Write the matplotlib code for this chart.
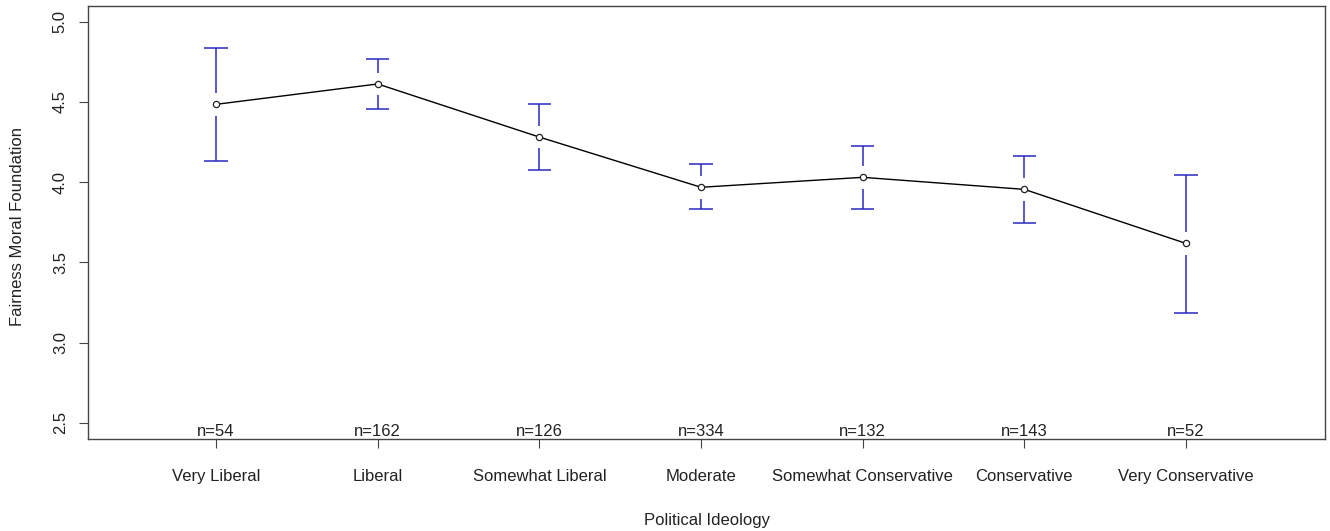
import matplotlib.pyplot as plt

# данные: средние и доверительные интервалы по группам
categories = ['Very Liberal', 'Liberal', 'Somewhat Liberal', 'Moderate',
              'Somewhat Conservative', 'Conservative', 'Very Conservative']
means = [4.485, 4.612, 4.281, 3.968, 4.030, 3.955, 3.618]
upper = [4.838, 4.767, 4.489, 4.113, 4.227, 4.165, 4.044]
lower = [4.132, 4.458, 4.077, 3.830, 3.834, 3.747, 3.184]
counts = [54, 162, 126, 334, 132, 143, 52]
yticks = [2.5, 3.0, 3.5, 4.0, 4.5, 5.0]

plt.rcParams['font.family'] = ['Liberation Sans', 'DejaVu Sans']

fig = plt.figure(figsize=(13.3, 5.31), dpi=100)
ax = fig.add_axes([88 / 1330, 1 - 439.3 / 531, (1325 - 88) / 1330, (439.3 - 6) / 531])

x = list(range(1, len(categories) + 1))
blue = '#2a2abf'
gap = 0.07
cap = 0.072
fs = 12
tc = '#222222'

# усы с разрывом вокруг точки
ax.vlines(x, [m + gap for m in means], upper, color=blue, lw=1.1)
ax.vlines(x, lower, [m - gap for m in means], color=blue, lw=1.1)
ax.hlines(upper, [i - cap for i in x], [i + cap for i in x], color=blue, lw=1.1)
ax.hlines(lower, [i - cap for i in x], [i + cap for i in x], color=blue, lw=1.1)

ax.plot(x, means, color='black', lw=1.0, marker='o', markersize=4.5,
        markerfacecolor='white', markeredgecolor='#222222', markeredgewidth=0.9)

ax.set_xlim(0.208, 7.86)
ax.set_ylim(2.397, 5.098)

for xi, n in zip(x, counts):
    ax.text(xi, 2.397, f'n={n}', ha='center', va='bottom', fontsize=fs, color=tc)

ax.set_xticks(x)
ax.set_xticklabels(categories, fontsize=fs, color=tc)
ax.set_yticks(yticks)
ax.set_yticklabels([f'{v:.1f}' for v in yticks], rotation=90, va='center',
                   fontsize=fs, color=tc)
ax.tick_params(axis='x', length=6.5, width=0.8, pad=15, color='#444444')
ax.tick_params(axis='y', length=6.5, width=0.8, pad=8, color='#444444')

for s in ax.spines.values():
    s.set_color('#444444')
    s.set_linewidth(1.0)

fig.text(707 / 1330, 1 - 521 / 531, 'Political Ideology', ha='center', va='center',
         fontsize=fs, color=tc)
fig.text(17.5 / 1330, 1 - 226 / 531, 'Fairness Moral Foundation', ha='center', va='center',
         rotation=90, fontsize=fs, color=tc)

fig.savefig('out.png', dpi=100)
